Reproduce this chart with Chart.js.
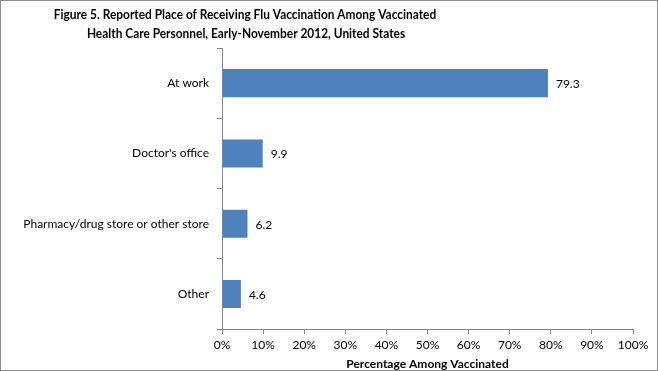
<!DOCTYPE html>
<html>
<head>
<meta charset="utf-8">
<script src="https://cdn.jsdelivr.net/npm/chart.js@4/dist/chart.umd.min.js"></script>
<style>
  html, body { margin: 0; padding: 0; background: #fff; }
  #wrap { width: 658px; height: 371px; position: relative; }
</style>
</head>
<body>
<div id="wrap"><canvas id="chart"></canvas></div>
<script>
// Figure 5 — place of receiving flu vaccination (horizontal bars)
const categories = ['At work', "Doctor's office", 'Pharmacy/drug store or other store', 'Other'];
const percentVaccinated = [79.3, 9.9, 6.2, 4.6];
const titleLines = [
  'Figure 5. Reported Place of Receiving Flu Vaccination Among Vaccinated',
  'Health Care Personnel, Early-November 2012, United States'
];
const xTicks = [0, 10, 20, 30, 40, 50, 60, 70, 80, 90, 100];

const FONT = 'Lato, "Open Sans", sans-serif';
const AXIS = '#868686';

// title, value labels and outer frame
const extras = {
  id: 'extras',
  afterDraw(chart) {
    const ctx = chart.ctx;
    ctx.save();
    ctx.fillStyle = '#000';
    ctx.textBaseline = 'middle';

    // title: Calibri-like narrow look, squeeze a 14px bold face
    const sx = 0.85;
    ctx.save();
    ctx.scale(sx, 1);
    ctx.font = 'bold 14px ' + FONT;
    ctx.textAlign = 'center';
    ctx.fillText(titleLines[0], 245 / sx, 14);
    ctx.fillText(titleLines[1], 246 / sx, 33);
    ctx.restore();

    const meta = chart.getDatasetMeta(0);
    ctx.font = '12px ' + FONT;
    ctx.textAlign = 'left';
    meta.data.forEach((bar, i) => {
      ctx.fillText(percentVaccinated[i].toFixed(1), bar.x + 8, bar.y + 1);
    });

    ctx.strokeStyle = '#8c8c8c';
    ctx.lineWidth = 1;
    ctx.strokeRect(0.5, 0.5, chart.width - 1, chart.height - 1);
    ctx.restore();
  }
};

Chart.defaults.font.family = FONT;
Chart.defaults.color = '#000';

new Chart(document.getElementById('chart'), {
  type: 'bar',
  data: {
    labels: categories,
    datasets: [{
      data: percentVaccinated,
      backgroundColor: '#4F81BD',
      borderWidth: 0,
      categoryPercentage: 0.8,
      barPercentage: 0.5
    }]
  },
  options: {
    indexAxis: 'y',
    responsive: true,
    maintainAspectRatio: false,
    animation: false,
    layout: { padding: { top: 48, right: 25, left: 0, bottom: 0 } },
    plugins: {
      legend: { display: false },
      tooltip: { enabled: false }
    },
    scales: {
      x: {
        min: 0, max: 100,
        afterBuildTicks: s => { s.ticks = xTicks.map(v => ({ value: v })); },
        ticks: { callback: v => v + '%', font: { size: 12 }, padding: 4, maxRotation: 0 },
        grid: { drawOnChartArea: false, tickLength: 5, color: AXIS },
        border: { color: AXIS },
        title: { display: true, text: 'Percentage Among Vaccinated', font: { size: 12, weight: 'bold' }, padding: { top: 0, bottom: 0 } }
      },
      y: {
        afterFit: s => { s.width = 222; },
        ticks: { font: { size: 12 }, padding: 8 },
        grid: { drawOnChartArea: false, tickLength: 5, color: AXIS, offset: true },
        border: { color: AXIS }
      }
    }
  },
  plugins: [extras]
});
</script>
</body>
</html>
